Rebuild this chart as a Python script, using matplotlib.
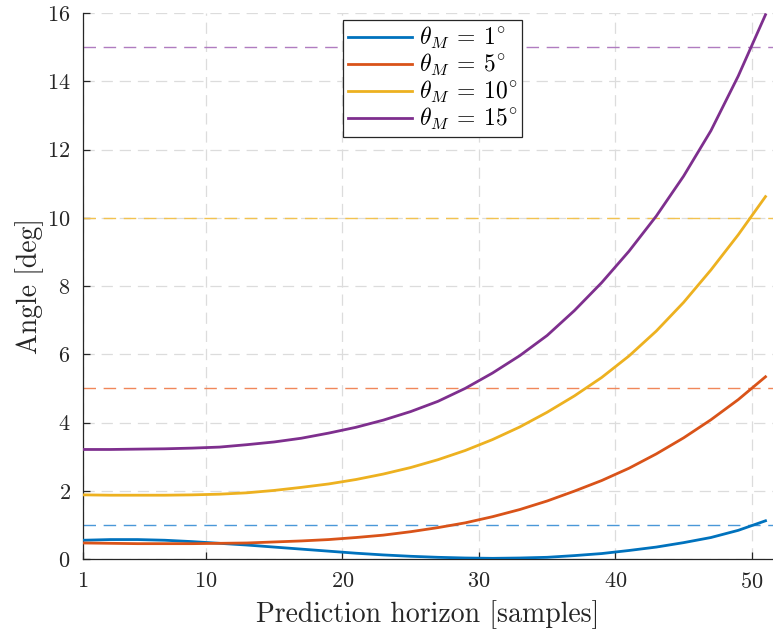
import numpy as np
import matplotlib
matplotlib.use("Agg")
import matplotlib.pyplot as plt

plt.rcParams["font.family"] = "cmr10"
plt.rcParams["mathtext.fontset"] = "cm"
plt.rcParams["axes.formatter.use_mathtext"] = True

# --- datos ---
horizon = [1, 3, 5, 7, 9, 11, 13, 15, 17, 19, 21, 23, 25, 27, 29, 31, 33, 35, 37, 39, 41, 43, 45, 47, 49, 51]

angle_1 = [0.55, 0.57, 0.57, 0.55, 0.51, 0.46, 0.41, 0.35, 0.29, 0.23, 0.17, 0.12, 0.08,
           0.05, 0.03, 0.02, 0.03, 0.05, 0.10, 0.16, 0.25, 0.35, 0.48, 0.63, 0.84, 1.12]
angle_5 = [0.47, 0.46, 0.45, 0.45, 0.45, 0.46, 0.47, 0.50, 0.53, 0.57, 0.63, 0.70, 0.80,
           0.92, 1.06, 1.24, 1.45, 1.70, 1.99, 2.30, 2.66, 3.08, 3.55, 4.08, 4.67, 5.34]
angle_10 = [1.88, 1.87, 1.87, 1.87, 1.88, 1.90, 1.94, 2.01, 2.10, 2.20, 2.33, 2.49, 2.68,
            2.91, 3.18, 3.50, 3.87, 4.30, 4.78, 5.32, 5.95, 6.68, 7.52, 8.47, 9.50, 10.62]
angle_15 = [3.21, 3.21, 3.22, 3.23, 3.25, 3.28, 3.35, 3.43, 3.54, 3.69, 3.86, 4.07, 4.32,
            4.62, 5.00, 5.45, 5.96, 6.55, 7.28, 8.10, 9.02, 10.05, 11.22, 12.55, 14.15, 15.95]

limits = [1, 5, 10, 15]
labels = [r"$\theta_M\:=\:1^{\circ}$", r"$\theta_M\:=\:5^{\circ}$",
          r"$\theta_M\:=\:10^{\circ}$", r"$\theta_M\:=\:15^{\circ}$"]
colors = ["#0072bd", "#d95319", "#edb120", "#7e2f8e"]
limit_colors = ["#4a98d8", "#f0875a", "#f2c250", "#b07cc0"]

fig = plt.figure(figsize=(7.73, 6.41), dpi=100)
ax = fig.add_axes([0.1074, 0.1279, 0.8926, 0.8518])

series = [angle_1, angle_5, angle_10, angle_15]
for vals, lim, lab, col, lcol in zip(series, limits, labels, colors, limit_colors):
    ax.axhline(lim, color=lcol, linewidth=1.0, linestyle=(0, (9, 5.5)), zorder=2)
    ax.plot(horizon, vals, color=col, linewidth=2.0, label=lab, zorder=3)

ax.set_xlim(1, 51.55)
ax.set_ylim(0, 16)
ax.set_xticks([1, 10, 20, 30, 40, 50])
ax.set_yticks(np.arange(0, 17, 2))

ax.grid(True, linestyle=(0, (9, 5.5)), color="#dcdcdc", linewidth=0.9, zorder=0)
ax.set_axisbelow(True)

for side in ["top", "right"]:
    ax.spines[side].set_visible(False)
for side in ["left", "bottom"]:
    ax.spines[side].set_color("#262626")
    ax.spines[side].set_linewidth(0.9)

ax.tick_params(direction="in", length=5, width=0.9, colors="#262626", labelsize=16, pad=9)
ax.set_xlabel("Prediction horizon [samples]", fontsize=20, color="#262626", labelpad=6)
ax.set_ylabel("Angle [deg]", fontsize=20, color="#262626", labelpad=2)

leg = ax.legend(loc="upper left", bbox_to_anchor=(0.377, 0.987), fontsize=17,
                frameon=True, fancybox=False, framealpha=1, edgecolor="#262626",
                handlelength=2.7, handletextpad=0.3, borderpad=0.2, labelspacing=0.05,
                borderaxespad=0)
leg.get_frame().set_linewidth(0.9)

fig.savefig("out.png", dpi=100)
